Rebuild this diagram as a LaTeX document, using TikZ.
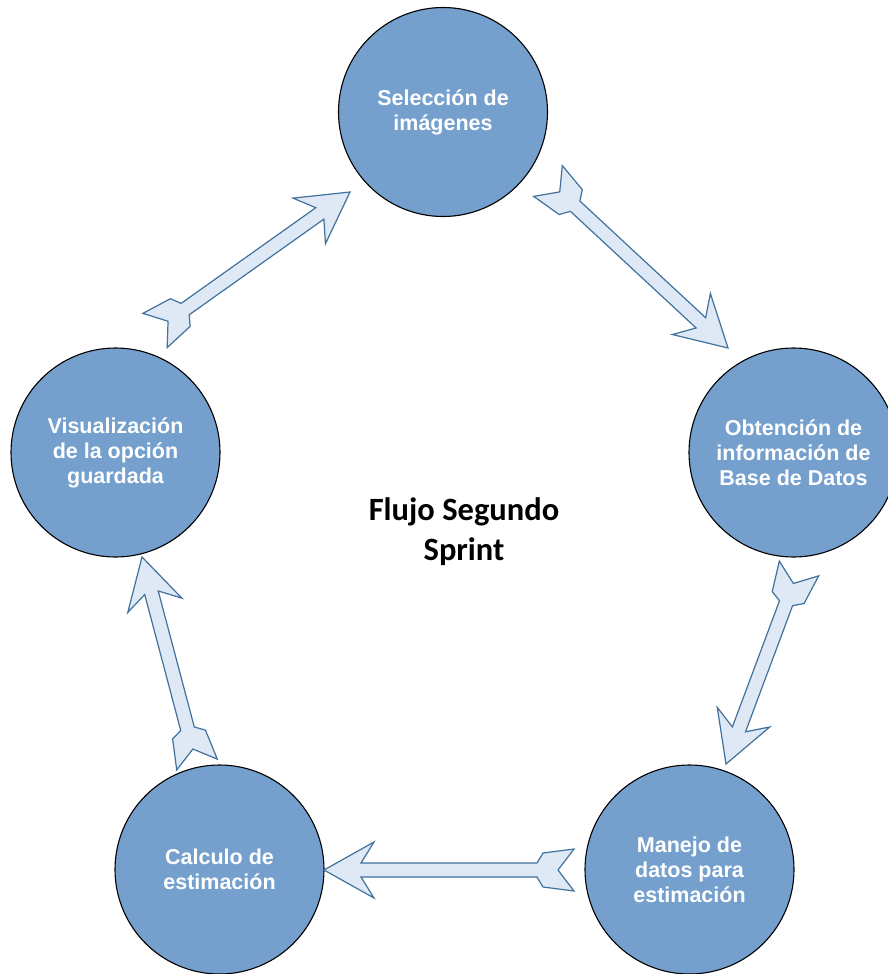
\documentclass[tikz,border=0pt]{standalone}
\usepackage{fontspec}
\setmainfont{Liberation Sans}
\newfontfamily\titlefont{Carlito}
\usetikzlibrary{calc}
\definecolor{circfill}{RGB}{117,160,205}
\definecolor{arrfill}{RGB}{222,233,245}
\definecolor{arrline}{RGB}{65,113,156}
\tikzset{
  stage/.style={circle, draw=black, line width=1.1pt, fill=circfill,
    minimum size=209pt, inner sep=0pt, align=center, text=white,
    font=\fontsize{21.5}{25}\selectfont\bfseries},
  blockarrow/.style={draw=arrline, fill=arrfill, line width=1.2pt, line join=miter},
  titletext/.style={align=center, font=\titlefont\fontsize{32.5}{40}\selectfont\bfseries},
}
\newcommand\flowarrow[2]{%
  \draw[blockarrow]
    (#2)
    -- ($(#2)!57.3pt!29.25:(#1)$)
    -- ($(#2)!37.66pt!10.71:(#1)$)
    -- ($(#1)!37.66pt!-10.71:(#2)$)
    -- ($(#1)!35.36pt!-28.74:(#2)$)
    -- ($(#1)!21pt!-90:(#2)$)
    -- ($(#1)!16pt!0:(#2)$)
    -- ($(#1)!21pt!90:(#2)$)
    -- ($(#1)!35.36pt!28.74:(#2)$)
    -- ($(#1)!37.66pt!10.71:(#2)$)
    -- ($(#2)!37.66pt!-10.71:(#1)$)
    -- ($(#2)!57.3pt!-29.25:(#1)$)
    -- cycle;
}
\begin{document}
\begin{tikzpicture}[x=1pt,y=-1pt]
  \useasboundingbox (0,0) rectangle (887,974);
  \node[stage] (sel) at (443,112) {Selección de\\imágenes};
  \node[stage] (obt) at (793.5,452.5) {Obtención de\\información de\\Base de Datos};
  \node[stage] (man) at (689.5,869.5) {Manejo de\\datos para\\estimación};
  \node[stage] (cal) at (219.5,869.5) {Calculo de\\estimación};
  \node[stage] (vis) at (115.5,452.5) {Visualización\\de la opción\\guardada};
  \node[titletext] (title) at (464,532) {Flujo Segundo\\Sprint};

  \coordinate (a1t) at (548,181);   \coordinate (a1h) at (728,348);
  \coordinate (a2t) at (799,568.5); \coordinate (a2h) at (726,764);
  \coordinate (a3t) at (574,870);   \coordinate (a3h) at (324,870);
  \coordinate (a4t) at (197,764.5); \coordinate (a4h) at (142,557);
  \coordinate (a5t) at (155,330.5); \coordinate (a5h) at (350,192);

  \flowarrow{a1t}{a1h}
  \flowarrow{a2t}{a2h}
  \flowarrow{a3t}{a3h}
  \flowarrow{a4t}{a4h}
  \flowarrow{a5t}{a5h}
\end{tikzpicture}
\end{document}
